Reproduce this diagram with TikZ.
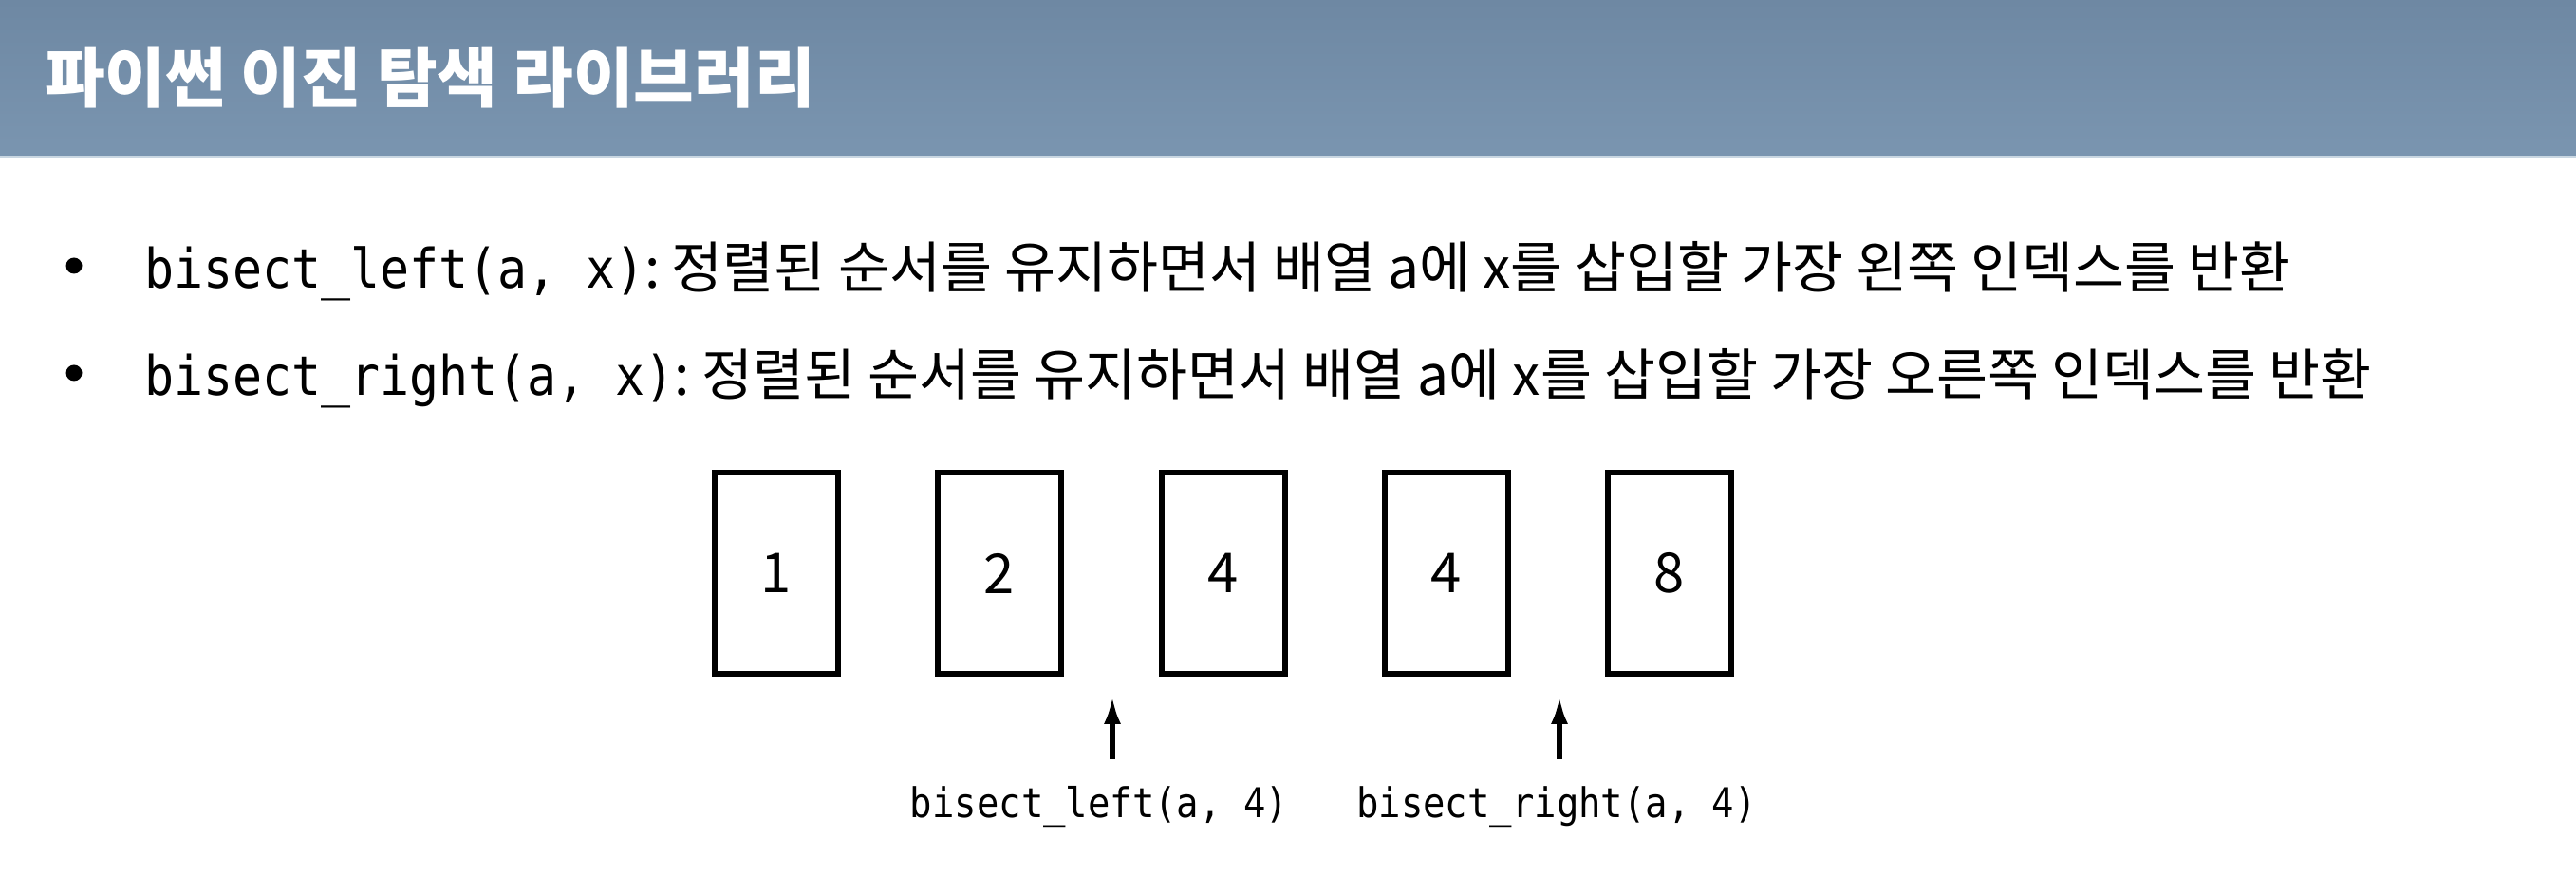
\documentclass[tikz,border=0pt]{standalone}
\usepackage{fontspec}
\setmainfont{Noto Sans CJK KR}
\newfontfamily\codefont[FakeStretch=0.9]{DejaVu Sans Mono}
\usetikzlibrary{arrows.meta}
\definecolor{bartop}{HTML}{6E88A3}
\definecolor{barbot}{HTML}{7A95B0}
\definecolor{barline}{HTML}{C9D7E2}
\newcommand{\pycode}[1]{{\codefont\fontsize{16.3}{17}\selectfont #1}}

\begin{document}
\begin{tikzpicture}[every node/.style={inner sep=0pt, outer sep=0pt},
  card/.style={draw=black, line width=1.5pt, minimum width=1.30cm, minimum height=2.12cm, font=\fontsize{16.5}{17}\selectfont},
  pointer/.style={-{Latex[length=0.3cm,width=0.18cm]}, line width=1.8pt},
  dot/.style={circle, fill=black, minimum size=0.17cm},
  bullettext/.style={anchor=base west, font=\fontsize{16.7}{17}\selectfont},
  call/.style={anchor=base, font=\codefont\fontsize{12.3}{13}\selectfont}]
\useasboundingbox[fill=white] (0,0) rectangle (27.14,-9.22);
\shade[top color=bartop, bottom color=barbot] (0,0) rectangle (27.14,-1.64);
\draw[barline, line width=0.6pt] (0,-1.65) -- (27.14,-1.65);
\node[anchor=base west, text=white, font=\bfseries\fontsize{19.7}{20}\selectfont] (title) at (0.47,-1.08) {파이썬 이진 탐색 라이브러리};

\node[dot] (dot1) at (0.78,-2.80) {};
\node[dot] (dot2) at (0.78,-3.93) {};
\node[bullettext] (line1) at (1.52,-3.04) {\pycode{bisect\_left(a, x)}:\hspace{0.12cm}정렬된 순서를 유지하면서 배열 a에 x를 삽입할 가장 왼쪽 인덱스를 반환};
\node[bullettext] (line2) at (1.52,-4.17) {\pycode{bisect\_right(a, x)}:\hspace{0.12cm}정렬된 순서를 유지하면서 배열 a에 x를 삽입할 가장 오른쪽 인덱스를 반환};

\node[card] (c1) at (8.18,-6.04) {1};
\node[card] (c2) at (10.53,-6.04) {2};
\node[card] (c3) at (12.89,-6.04) {4};
\node[card] (c4) at (15.24,-6.04) {4};
\node[card] (c5) at (17.59,-6.04) {8};

\coordinate (tipL) at (11.72,-7.33);
\coordinate (tailL) at (11.72,-8.00);
\coordinate (tipR) at (16.43,-7.33);
\coordinate (tailR) at (16.43,-8.00);
\draw[pointer] (tailL) -- (tipL);
\draw[pointer] (tailR) -- (tipR);

\node[call] (left) at (11.58,-8.62) {bisect\_left(a, 4)};
\node[call] (right) at (16.40,-8.62) {bisect\_right(a, 4)};
\end{tikzpicture}
\end{document}
